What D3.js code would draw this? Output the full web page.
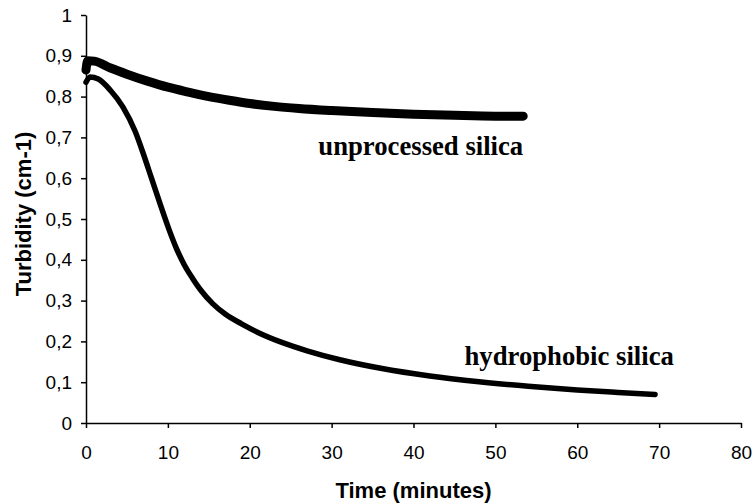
<!DOCTYPE html>
<html>
<head>
<meta charset="utf-8">
<script src="https://cdn.jsdelivr.net/npm/d3@7"></script>
<style>
  body { margin: 0; background: #fff; }
  .axis path, .axis line { stroke: #000; stroke-width: 1.5px; }
  .axis text { font-family: "Liberation Sans", Arial, sans-serif; font-size: 19px; fill: #000; }
</style>
</head>
<body>
<div id="chart"></div>
<script>
// time in minutes / turbidity (cm-1)
const unprocTime = [0, 0.2, 1, 3, 5, 7.5, 10, 12.5, 15, 17.5, 20, 23, 26, 30, 35, 40, 45, 50, 53.4];
const unprocVal  = [0.865, 0.888, 0.887, 0.87, 0.855, 0.838, 0.823, 0.811, 0.8, 0.791, 0.783, 0.776, 0.771, 0.766, 0.761, 0.757, 0.754, 0.752, 0.752];

const hydroTime = [0, 0.5, 1.5, 3, 4.5, 6, 7, 8, 9, 10, 11, 12, 13, 14, 15.5, 17, 19, 21, 24, 27, 31, 36, 42, 48, 54, 60, 65, 69.5];
const hydroVal  = [0.835, 0.848, 0.843, 0.815, 0.775, 0.715, 0.66, 0.6, 0.54, 0.482, 0.43, 0.388, 0.355, 0.326, 0.292, 0.267, 0.243, 0.222, 0.197, 0.177, 0.155, 0.134, 0.115, 0.101, 0.09, 0.081, 0.075, 0.07];

const xTicks = [0, 10, 20, 30, 40, 50, 60, 70, 80];
const yTicks = [0, 0.1, 0.2, 0.3, 0.4, 0.5, 0.6, 0.7, 0.8, 0.9, 1];

var margin = { top: 15, right: 12, bottom: 81, left: 86 },
    width = 753 - margin.left - margin.right,
    height = 504 - margin.top - margin.bottom;

var x = d3.scaleLinear().domain([0, 80]).range([0, width]),
    y = d3.scaleLinear().domain([0, 1]).range([height, 0]);

var fmtY = function (d) { return d === 0 || d === 1 ? String(d) : d.toFixed(1).replace(".", ","); };

var svg = d3.select("#chart").append("svg")
    .attr("width", 753)
    .attr("height", 504);

var g = svg.append("g")
    .attr("transform", "translate(" + margin.left + "," + margin.top + ")");

g.append("g")
    .attr("class", "axis")
    .attr("transform", "translate(0," + height + ")")
    .call(d3.axisBottom(x).tickValues(xTicks).tickSize(5).tickSizeOuter(0).tickPadding(18));

g.append("g")
    .attr("class", "axis")
    .call(d3.axisLeft(y).tickValues(yTicks).tickFormat(fmtY).tickSize(5).tickSizeOuter(0).tickPadding(9));

var line = d3.line()
    .x(function (d) { return x(d[0]); })
    .y(function (d) { return y(d[1]); })
    .curve(d3.curveMonotoneX);

var series = [
    { name: "unprocessed silica", pts: d3.zip(unprocTime, unprocVal), w: 9 },
    { name: "hydrophobic silica", pts: d3.zip(hydroTime, hydroVal), w: 5.5 }
];

g.selectAll(".series")
    .data(series)
    .enter().append("path")
    .attr("class", "series")
    .attr("d", function (d) { return line(d.pts); })
    .attr("fill", "none")
    .attr("stroke", "#000")
    .attr("stroke-linecap", "round")
    .attr("stroke-linejoin", "round")
    .attr("stroke-width", function (d) { return d.w; });

// curve labels
g.append("text")
    .attr("x", x(53.4))
    .attr("y", y(0.657))
    .attr("text-anchor", "end")
    .style("font-family", "'Liberation Serif', 'Times New Roman', serif")
    .style("font-weight", "bold")
    .style("font-size", "26.7px")
    .text("unprocessed silica");

g.append("text")
    .attr("x", x(71.8))
    .attr("y", y(0.143))
    .attr("text-anchor", "end")
    .style("font-family", "'Liberation Serif', 'Times New Roman', serif")
    .style("font-weight", "bold")
    .style("font-size", "26.7px")
    .text("hydrophobic silica");

// axis titles
svg.append("text")
    .attr("x", margin.left + width / 2)
    .attr("y", 498)
    .attr("text-anchor", "middle")
    .style("font-family", "'Liberation Sans', Arial, sans-serif")
    .style("font-weight", "bold")
    .style("font-size", "22px")
    .text("Time (minutes)");

svg.append("text")
    .attr("transform", "translate(31,214) rotate(-90)")
    .attr("text-anchor", "middle")
    .style("font-family", "'Liberation Sans', Arial, sans-serif")
    .style("font-weight", "bold")
    .style("font-size", "22px")
    .text("Turbidity (cm-1)");
</script>
</body>
</html>
